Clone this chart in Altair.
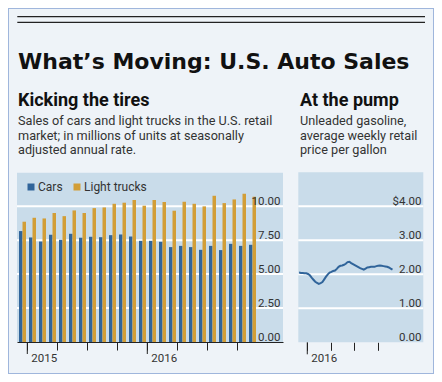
import altair as alt
import pandas as pd

# ---------------- data ----------------
months = ["2014-12", "2015-01", "2015-02", "2015-03", "2015-04", "2015-05", "2015-06",
          "2015-07", "2015-08", "2015-09", "2015-10", "2015-11", "2015-12",
          "2016-01", "2016-02", "2016-03", "2016-04", "2016-05", "2016-06",
          "2016-07", "2016-08", "2016-09", "2016-10", "2016-11"]
cars = [8.17, 7.70, 7.40, 7.90, 7.53, 7.97, 7.68, 7.75, 7.72, 7.87, 7.92, 7.77,
        7.45, 7.45, 7.38, 6.99, 7.08, 6.99, 6.79, 7.08, 6.77, 7.23, 7.08, 7.16]
trucks = [8.86, 9.15, 9.10, 9.50, 9.27, 9.69, 9.50, 9.86, 9.91, 10.18, 10.26, 10.46,
          10.04, 10.46, 10.31, 9.67, 10.33, 10.18, 9.99, 10.77, 10.23, 10.50, 10.92, 10.70]
series_names = ["Cars", "Light trucks"]

gas_weeks = pd.date_range("2015-11-30", periods=53, freq="7D").strftime("%Y-%m-%d").tolist()
gas = [2.05, 2.04, 2.04, 2.03, 2.03, 2.01, 1.97, 1.90, 1.84, 1.78, 1.75, 1.72, 1.74,
       1.77, 1.85, 1.93, 2.00, 2.05, 2.07, 2.10, 2.11, 2.16, 2.22, 2.25, 2.26, 2.28,
       2.31, 2.36, 2.37, 2.33, 2.30, 2.27, 2.24, 2.21, 2.18, 2.16, 2.14, 2.17, 2.20,
       2.21, 2.22, 2.22, 2.22, 2.24, 2.25, 2.26, 2.25, 2.24, 2.23, 2.22, 2.20, 2.17, 2.14]

left_y_ticks = [0, 2.5, 5, 7.5, 10]
left_grid = [2.5, 5, 7.5, 10]
left_x_ticks = [1, 4, 7, 10, 13, 16, 19, 22]   # quarter starts (month index)
left_year_ticks = [1, 13]
right_y_ticks = [0, 1, 2, 3, 4]
right_grid = [1, 2, 3, 4]

TITLE = "What\u2019s Moving: U.S. Auto Sales"
LEFT_HEAD = "Kicking the tires"
LEFT_SUB = ["Sales of cars and light trucks in the U.S. retail",
            "market; in millions of units at seasonally",
            "adjusted annual rate."]
RIGHT_HEAD = "At the pump"
RIGHT_SUB = ["Unleaded gasoline,", "average weekly retail", "price per gallon"]

# ---------------- style ----------------
BG = "#eef3f8"
PANEL = "#c9dcea"
BORDER = "#9fb6dc"
BLUE = "#30649a"
GOLD = "#d29e37"
DARK = "#222222"
TXT = "#333333"
HEAD_FONT = "DejaVu Sans"
BODY_FONT = "Roboto"

W, H = 426, 366

rows = []
for i, m in enumerate(months):
    rows.append({"idx": i, "month": m, "series": series_names[0], "value": cars[i]})
    rows.append({"idx": i, "month": m, "series": series_names[1], "value": trucks[i]})
bars_df = pd.DataFrame(rows)
gas_df = pd.DataFrame({"week": gas_weeks, "price": gas})
one = pd.DataFrame({"a": [0]})


def LX():
    return alt.Scale(domain=[-0.03, 26.57], range=[9, 275], nice=False, zero=False)


def LY():
    return alt.Scale(domain=[0, 12.47], range=[334, 164.7], nice=False, zero=False)


def RX():
    return alt.Scale(domain=[alt.DateTime(year=2015, month=11, date=27),
                             alt.DateTime(year=2017, month=3, date=28)],
                     range=[290.3, 415.3], nice=False)


def RY():
    return alt.Scale(domain=[0, 5], range=[334.3, 164.3], nice=False, zero=False)


def rect(x, x2, y, y2, color):
    return alt.Chart(one).mark_rect(color=color).encode(
        x=alt.value(x), x2=alt.value(x2), y=alt.value(y), y2=alt.value(y2))


def text(s, x, y, size, weight="normal", font=BODY_FONT, color=TXT):
    return alt.Chart(pd.DataFrame({"t": [s]})).mark_text(
        align="left", baseline="alphabetic", font=font, fontSize=size,
        fontWeight=weight, color=color).encode(
        x=alt.value(x), y=alt.value(y), text="t:N")


AX = dict(labelFont=BODY_FONT, labelFontSize=11.5, labelColor=TXT, title=None,
          grid=False, zindex=1)

# ---------------- left panel ----------------
left_bg = rect(9, 275, 164.7, 334, PANEL)
left_grid_l = alt.Chart(pd.DataFrame({"v": left_grid})).mark_rule(
    color="white", strokeWidth=2).encode(
    y=alt.Y("v:Q", scale=LY(), axis=None), x=alt.value(9), x2=alt.value(275))
left_bars = alt.Chart(bars_df).transform_calculate(
    x0="datum.idx + (datum.series == 'Cars' ? 0.17 : 0.52)",
    x1="datum.idx + (datum.series == 'Cars' ? 0.52 : 0.87)",
).mark_rect().encode(
    x=alt.X("x0:Q", scale=LX(), axis=alt.Axis(
        orient="bottom", offset=334 - H, values=left_x_ticks, domain=True,
        domainColor=DARK, domainWidth=1, ticks=True, tickColor=DARK, tickSize=8,
        tickWidth=1,
        labelExpr="datum.value == 1 ? '2015' : (datum.value == 13 ? '2016' : '')",
        labelAlign="left", labelBaseline="alphabetic", labelPadding=11.5,
        labelOffset=3.5, **AX)),
    x2="x1:Q",
    y=alt.Y("value:Q", scale=LY(), axis=alt.Axis(
        orient="right", offset=272 - W, values=left_y_ticks, format=".2f",
        domain=False, ticks=False, tickSize=0, labelAlign="right",
        labelBaseline="alphabetic", labelPadding=0, labelOffset=-1.5, **AX)),
    y2=alt.datum(0),
    color=alt.Color("series:N", scale=alt.Scale(domain=series_names, range=[BLUE, GOLD]),
                    legend=alt.Legend(orient="none", legendX=17, legendY=173,
                                      direction="horizontal", title=None,
                                      symbolType="square", symbolSize=49,
                                      symbolStrokeWidth=0, labelFont=BODY_FONT,
                                      labelFontSize=12, labelColor=TXT,
                                      columnPadding=8, labelOffset=1, padding=0)),
)
left_year = alt.Chart(pd.DataFrame({"t": left_year_ticks})).mark_rule(
    color=DARK, strokeWidth=1).encode(
    x=alt.X("t:Q", scale=LX(), axis=None), y=alt.value(334), y2=alt.value(346))

# ---------------- right panel ----------------
right_bg = rect(290.3, 415.3, 164.3, 334.3, PANEL)
right_grid_l = alt.Chart(pd.DataFrame({"v": right_grid})).mark_rule(
    color="white", strokeWidth=2).encode(
    y=alt.Y("v:Q", scale=RY(), axis=None), x=alt.value(290.3), x2=alt.value(415.3))
right_line = alt.Chart(gas_df).mark_line(color=BLUE, strokeWidth=2).encode(
    x=alt.X("week:T", scale=RX(), axis=alt.Axis(
        orient="bottom", offset=334.3 - H,
        values=[alt.DateTime(year=2016, month=m, date=1) for m in (1, 4, 7, 10)],
        domain=False, ticks=True, tickColor=DARK, tickSize=8, tickWidth=1,
        labelExpr="month(datum.value) == 0 ? '2016' : ''",
        labelAlign="left", labelBaseline="alphabetic", labelPadding=11.5,
        labelOffset=3.5, **AX)),
    y=alt.Y("price:Q", scale=RY(), axis=alt.Axis(
        orient="right", offset=413 - W, values=right_y_ticks,
        labelExpr="datum.value == 4 ? '$4.00' : format(datum.value, '.2f')",
        domain=False, ticks=False, tickSize=0, labelAlign="right",
        labelBaseline="alphabetic", labelPadding=0, labelOffset=-1.5, **AX)),
)
right_year = alt.Chart(pd.DataFrame({"t": ["2016-01-01"]})).mark_rule(
    color=DARK, strokeWidth=1).encode(
    x=alt.X("t:T", scale=RX(), axis=None), y=alt.value(334.3), y2=alt.value(346.3))

# ---------------- header ----------------
rule1 = alt.Chart(one).mark_rule(color=DARK, strokeWidth=1.2).encode(
    x=alt.value(9.3), x2=alt.value(417), y=alt.value(8.7))
rule2 = alt.Chart(one).mark_rule(color=DARK, strokeWidth=1.2).encode(
    x=alt.value(9.3), x2=alt.value(417), y=alt.value(14.3))

texts = [
    text(TITLE, 10, 60.5, 22, "bold", HEAD_FONT, "#111111"),
    text(LEFT_HEAD, 10, 98, 18, "bold", BODY_FONT, "#111111"),
    text(RIGHT_HEAD, 292, 98, 18, "bold", BODY_FONT, "#111111"),
]
for i, s in enumerate(LEFT_SUB):
    texts.append(text(s, 10, 117 + 14.5 * i, 12.7))
for i, s in enumerate(RIGHT_SUB):
    texts.append(text(s, 292, 117 + 14.5 * i, 12.7))

chart = alt.layer(
    left_bg, right_bg, left_grid_l, right_grid_l, left_bars, left_year,
    right_line, right_year, rule1, rule2, *texts
).resolve_scale(x="independent", y="independent").properties(
    width=W, height=H, autosize=alt.AutoSizeParams(type="none"), padding=0,
    background=BG,
).configure_view(stroke=BORDER, strokeWidth=2, fill=BG)

chart.save("out.html", embed_options={"renderer": "svg", "actions": False})
